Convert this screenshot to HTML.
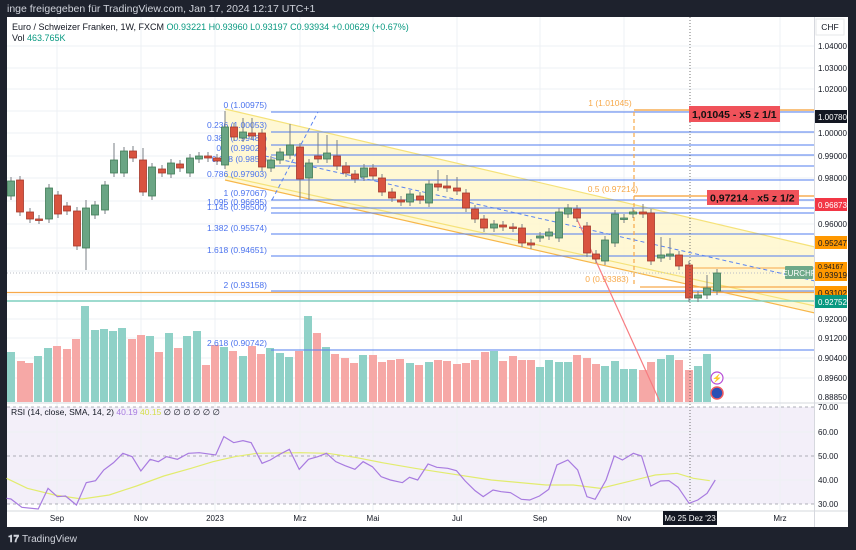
<!DOCTYPE html>
<html><head><meta charset="utf-8"><style>
body{margin:0;width:856px;height:550px;background:#1e222d;overflow:hidden;font-family:"Liberation Sans",sans-serif}
svg{position:absolute;left:0;top:0}
text{font-family:"Liberation Sans",sans-serif}
</style></head><body>
<svg width="856" height="550" viewBox="0 0 856 550" xmlns="http://www.w3.org/2000/svg">
<rect x="0" y="0" width="856" height="550" fill="#1e222d"/>
<text x="7" y="12" font-size="10.5" fill="#d1d4dc">inge freigegeben für TradingView.com, Jan 17, 2024 12:17 UTC+1</text>
<rect x="7" y="17" width="841" height="510" fill="#ffffff"/>
<!-- RSI bg -->
<rect x="7" y="407" width="807" height="97" fill="#f3eff9"/>
<g id="grid" stroke="#eef0f4" stroke-width="1">
<line x1="57" y1="17" x2="57" y2="511"/><line x1="141" y1="17" x2="141" y2="511"/><line x1="215" y1="17" x2="215" y2="511"/><line x1="300" y1="17" x2="300" y2="511"/><line x1="373" y1="17" x2="373" y2="511"/><line x1="457" y1="17" x2="457" y2="511"/><line x1="540" y1="17" x2="540" y2="511"/><line x1="624" y1="17" x2="624" y2="511"/><line x1="780" y1="17" x2="780" y2="511"/>
<line x1="7" y1="46" x2="814" y2="46"/><line x1="7" y1="68" x2="814" y2="68"/><line x1="7" y1="89" x2="814" y2="89"/><line x1="7" y1="111" x2="814" y2="111"/><line x1="7" y1="133" x2="814" y2="133"/><line x1="7" y1="156" x2="814" y2="156"/><line x1="7" y1="178" x2="814" y2="178"/><line x1="7" y1="201" x2="814" y2="201"/><line x1="7" y1="224" x2="814" y2="224"/><line x1="7" y1="248" x2="814" y2="248"/><line x1="7" y1="271" x2="814" y2="271"/><line x1="7" y1="295" x2="814" y2="295"/><line x1="7" y1="319" x2="814" y2="319"/><line x1="7" y1="338" x2="814" y2="338"/><line x1="7" y1="358" x2="814" y2="358"/><line x1="7" y1="378" x2="814" y2="378"/><line x1="7" y1="432" x2="814" y2="432"/><line x1="7" y1="480" x2="814" y2="480"/>
</g>
<!-- channel -->
<polygon points="225,109 815,247 815,312 225,180" fill="#fff7cc" opacity="0.85"/>
<line x1="225" y1="109" x2="815" y2="247" stroke="#f5e27a" stroke-width="1.2"/>
<line x1="225" y1="176" x2="815" y2="306" stroke="#f5e27a" stroke-width="1.2"/>
<line x1="225" y1="180" x2="815" y2="313" stroke="#f7b74a" stroke-width="1.2"/>
<!-- volume -->
<g id="vol"></g>
<!-- fib blue -->
<g stroke="#5b84f0" stroke-width="1.2" opacity="0.85">
<line x1="271" y1="112" x2="815" y2="112"/><line x1="271" y1="132" x2="815" y2="132"/><line x1="271" y1="145" x2="815" y2="145"/><line x1="271" y1="155" x2="815" y2="155"/><line x1="271" y1="166" x2="815" y2="166"/><line x1="271" y1="180" x2="815" y2="180"/><line x1="271" y1="200" x2="815" y2="200"/><line x1="271" y1="208" x2="815" y2="208"/><line x1="271" y1="213" x2="815" y2="213"/><line x1="271" y1="234" x2="815" y2="234"/><line x1="271" y1="256" x2="815" y2="256"/><line x1="271" y1="291" x2="815" y2="291"/><line x1="271" y1="350" x2="815" y2="350"/>
</g>
<g font-size="8.5" fill="#4a72ee" text-anchor="end">
<text x="267" y="108">0 (1.00975)</text><text x="267" y="128">0.236 (1.00053)</text><text x="267" y="141">0.382 (0.99487)</text><text x="267" y="151">0.5 (0.99024)</text><text x="267" y="162">0.618 (0.9856)</text><text x="267" y="177">0.786 (0.97903)</text><text x="267" y="196">1 (0.97067)</text><text x="267" y="205">1.095 (0.96695)</text><text x="267" y="210">1.145 (0.96500)</text><text x="267" y="231">1.382 (0.95574)</text><text x="267" y="253">1.618 (0.94651)</text><text x="267" y="288">2 (0.93158)</text><text x="267" y="346">2.618 (0.90742)</text>
</g>
<!-- horizontal lines -->
<line x1="7" y1="292.5" x2="815" y2="292.5" stroke="#f7a94a" stroke-width="1.2"/>
<line x1="7" y1="301" x2="815" y2="301" stroke="#7fcfbf" stroke-width="1.5"/>
<line x1="7" y1="273" x2="815" y2="273" stroke="#b8bcc6" stroke-width="1" stroke-dasharray="1,2"/>
<line x1="690" y1="268" x2="815" y2="268" stroke="#f7a94a" stroke-width="1"/>
<!-- orange fib -->
<g stroke="#f7a94a" stroke-width="1.2">
<line x1="634" y1="110" x2="815" y2="110" stroke-width="2" opacity="0.7"/><line x1="634" y1="196" x2="815" y2="196" stroke-width="2" opacity="0.7"/><line x1="640" y1="287" x2="815" y2="287"/>
<line x1="634" y1="112" x2="634" y2="286" stroke-dasharray="4,3"/>
</g>
<g font-size="8.5" fill="#f7a94a" text-anchor="middle"><text x="610" y="106">1 (1.01045)</text><text x="613" y="192">0.5 (0.97214)</text><text x="607" y="282">0 (0.93383)</text></g>
<!-- dashed blue -->
<line x1="265" y1="156" x2="815" y2="281" stroke="#5b84f0" stroke-width="1" stroke-dasharray="4,3"/>
<line x1="272" y1="200" x2="318" y2="112" stroke="#5b84f0" stroke-width="1" stroke-dasharray="4,3"/>
<line x1="576" y1="217" x2="660" y2="402" stroke="#f77c80" stroke-width="1.2"/>
<g id="cnd"></g>
<!-- vertical cursor -->
<line x1="690" y1="17" x2="690" y2="511" stroke="#555" stroke-width="0.8" stroke-dasharray="1,2"/>
<!-- annotations -->
<rect x="689" y="106" width="91" height="16" fill="#f0525a"/><text x="692" y="118" font-size="10.5" font-weight="bold" fill="#111">1,01045 - x5 z 1/1</text>
<rect x="707" y="190" width="92" height="15" fill="#f0525a"/><text x="710" y="201.5" font-size="10.5" font-weight="bold" fill="#111">0,97214 - x5 z 1/2</text>
<rect x="785" y="266" width="28" height="13" fill="#6ea989" rx="1"/><text x="799" y="276" font-size="8" fill="#fff" text-anchor="middle">EURCHF</text>
<circle cx="717" cy="378" r="6" fill="#fff" stroke="#b64bd6" stroke-width="1.2"/><text x="717" y="381" font-size="8" fill="#b64bd6" text-anchor="middle">⚡</text>
<circle cx="717" cy="393" r="6" fill="#2b4fb5" stroke="#f05a5f" stroke-width="1.5"/>
<!-- header -->
<text x="12" y="30" font-size="9" fill="#131722">Euro / Schweizer Franken, 1W, FXCM <tspan fill="#089981">O0.93221 H0.93960 L0.93197 C0.93934 +0.00629 (+0.67%)</tspan></text>
<text x="12" y="41" font-size="9" fill="#131722">Vol <tspan fill="#089981">463.765K</tspan></text>
<!-- RSI -->
<line x1="7" y1="403" x2="848" y2="403" stroke="#d6d8de" stroke-width="1"/>
<g stroke="#9598a1" stroke-width="0.8" stroke-dasharray="3,3"><line x1="7" y1="407" x2="814" y2="407"/><line x1="7" y1="456" x2="814" y2="456"/><line x1="7" y1="504" x2="814" y2="504"/></g>
<g transform="translate(0,400) scale(0.546,0.33333)" fill="none">
<polyline vector-effect="non-scaling-stroke" stroke="#e2ec6e" stroke-width="1.2" points="12,235 50,265 100,285 150,297 200,285 250,258 300,228 350,205 390,185 430,170 470,160 550,158 600,160 650,172 700,188 760,205 800,215 900,240 1000,255 1050,255 1100,265 1150,245 1200,225 1240,220 1270,235 1300,242"/>
<polyline vector-effect="non-scaling-stroke" stroke="#a87be0" stroke-width="1.2" points="12,295 20,297 40,322 70,327 88,265 105,290 120,288 140,315 158,248 175,242 190,210 208,188 225,160 242,170 258,213 275,178 290,185 305,170 325,178 345,160 365,158 395,165 410,110 428,128 445,122 460,128 480,190 495,180 510,165 530,148 548,208 565,178 582,170 598,160 615,185 632,197 650,208 665,185 682,200 698,230 715,240 737,248 750,232 765,240 784,192 800,202 820,205 836,212 852,243 870,272 885,290 903,270 918,275 935,278 955,298 970,300 988,288 1005,268 1020,195 1040,180 1058,210 1075,290 1090,298 1110,240 1125,168 1140,180 1160,160 1175,168 1192,258 1210,243 1225,242 1242,262 1262,310 1278,300 1295,280 1310,240"/>
</g>
<text x="11" y="415" font-size="8.5" fill="#131722">RSI (14, close, SMA, 14, 2) <tspan fill="#a87be0">40.19</tspan> <tspan fill="#d5de4a">40.15</tspan> ∅ ∅ ∅ ∅ ∅ ∅</text>
<!-- axes -->
<line x1="814.5" y1="17" x2="814.5" y2="527" stroke="#d6d8de"/>
<line x1="7" y1="511" x2="848" y2="511" stroke="#d6d8de"/>
<rect x="816" y="19" width="28" height="16" fill="#fff" stroke="#e6e7ea"/><text x="830" y="30" font-size="8.5" fill="#131722" text-anchor="middle">CHF</text>
<g font-size="8" fill="#131722">
<text x="818" y="49">1.04000</text><text x="818" y="71">1.03000</text><text x="818" y="92">1.02000</text><text x="818" y="136">1.00000</text><text x="818" y="159">0.99000</text><text x="818" y="181">0.98000</text><text x="818" y="227">0.96000</text><text x="818" y="322">0.92000</text><text x="818" y="341">0.91200</text><text x="818" y="361">0.90400</text><text x="818" y="381">0.89600</text><text x="818" y="400">0.88850</text>
<text x="818" y="410">70.00</text><text x="818" y="435">60.00</text><text x="818" y="459">50.00</text><text x="818" y="483">40.00</text><text x="818" y="507">30.00</text>
</g>
<rect x="815" y="110" width="32" height="13" fill="#131722"/><text x="818" y="120" font-size="8" fill="#fff">1.00780</text>
<rect x="815" y="198" width="32" height="13" fill="#f23645"/><text x="818" y="208" font-size="8" fill="#fff">0.96873</text>
<rect x="815" y="236" width="32" height="13" fill="#ff9800"/><text x="818" y="246" font-size="8" fill="#131722">0.95247</text>
<rect x="815" y="262" width="32" height="19" fill="#ff9800"/><text x="818" y="269" font-size="7" fill="#131722">0.94167</text><text x="818" y="278" font-size="8" fill="#131722">0.93919</text>
<rect x="815" y="286" width="32" height="13" fill="#ff9800"/><text x="818" y="296" font-size="8" fill="#131722">0.93102</text>
<rect x="815" y="295" width="32" height="13" fill="#089981"/><text x="818" y="305" font-size="8" fill="#fff">0.92752</text>
<g font-size="8" fill="#131722" text-anchor="middle">
<text x="57" y="521">Sep</text><text x="141" y="521">Nov</text><text x="215" y="521">2023</text><text x="300" y="521">Mrz</text><text x="373" y="521">Mai</text><text x="457" y="521">Jul</text><text x="540" y="521">Sep</text><text x="624" y="521">Nov</text><text x="780" y="521">Mrz</text>
</g>
<rect x="663" y="511" width="54" height="14" fill="#131722"/><text x="690" y="521" font-size="8" fill="#fff" text-anchor="middle">Mo 25 Dez '23</text>
<text x="8" y="542" font-size="10" font-weight="bold" fill="#d1d4dc">𝟏𝟕</text><text x="22" y="542" font-size="10" fill="#d1d4dc">TradingView</text>
</svg>
<script>
var ns="http://www.w3.org/2000/svg";
function el(p,t,a){var e=document.createElementNS(ns,t);for(var k in a)e.setAttribute(k,a[k]);p.appendChild(e);return e;}
var V=[[11,352,1],[21,361,0],[29,363,0],[38,356,1],[48,348,1],[57,346,0],[67,349,0],[76,339,0],[85,306,1],[95,330,1],[104,329,1],[113,331,1],[122,328,1],[132,339,0],[141,335,0],[150,336,1],[159,352,0],[169,333,1],[178,348,0],[187,336,1],[197,331,1],[206,365,0],[215,345,0],[224,347,1],[233,351,0],[243,356,1],[252,346,0],[261,354,0],[270,348,1],[280,353,1],[289,357,1],[299,351,0],[308,316,1],[317,333,0],[326,347,1],[335,354,0],[345,358,0],[354,363,0],[363,355,1],[373,355,0],[382,362,0],[391,360,0],[400,359,0],[410,363,1],[419,365,0],[429,362,1],[438,360,0],[447,361,0],[457,364,0],[466,363,0],[475,360,0],[485,352,0],[494,351,1],[503,361,0],[513,356,0],[522,360,0],[531,360,0],[540,367,1],[549,360,1],[559,362,1],[568,362,1],[577,355,0],[587,358,0],[596,364,0],[605,366,1],[615,361,1],[624,369,1],[633,369,1],[643,370,0],[651,362,0],[661,359,1],[670,355,1],[679,360,0],[689,370,0],[698,366,1],[707,354,1]];
var g=document.getElementById("vol");
V.forEach(function(v){el(g,"rect",{x:v[0]-4,y:v[1],width:8,height:402-v[1],fill:v[2]?"#8fd1c7":"#f6a8a6"});});
var C=[[11,196,181],[20,180,212],[30,212,219],[39,219,220],[49,219,188],[58,195,214],[67,206,211],[77,211,246],[86,248,208,200,270],[95,215,205],[105,210,185],[114,173,160,143],[124,173,151],[133,151,158,146],[143,160,192,148],[152,196,167],[162,169,173],[171,174,163],[180,164,168],[190,173,158],[199,159,156],[208,156,158],[217,158,161],[225,165,127,111],[234,127,137],[243,138,132,118],[252,133,136,118],[262,133,167],[271,168,160],[280,160,152],[290,155,145,124],[300,147,179,0,200],[309,178,163,0,200],[318,156,159,133],[327,159,153,135],[337,156,166,140],[346,166,173],[355,174,179],[364,177,168],[373,168,176],[382,178,192],[392,192,198],[401,200,202],[410,202,194],[420,196,200],[429,203,184],[438,184,187,170],[447,186,188,175],[457,188,191,177],[466,193,208],[475,209,219],[484,219,228],[494,228,224],[503,225,227],[513,227,228],[522,228,243],[531,243,245],[540,238,236],[549,236,232],[559,238,212],[568,214,208],[577,209,218],[587,226,253],[596,254,259],[605,261,240],[615,243,214],[624,219,218],[633,214,212],[643,212,214,204],[651,213,261],[661,258,255,237],[670,256,254,238],[679,255,266],[689,265,298,0,302],[698,298,295],[707,295,288,275],[717,291,273]];
var c=document.getElementById("cnd");
C.forEach(function(d){var x=d[0],o=d[1],cl=d[2],up=cl<o,t=Math.min(o,cl),b=Math.max(o,cl);
var h=d[3]||t-4,l=d[4]||b+4;
el(c,"line",{x1:x,y1:h,x2:x,y2:l,stroke:"#7a7f86","stroke-width":1});
el(c,"rect",{x:x-3.5,y:t,width:7,height:Math.max(b-t,1.5),fill:up?"#6aa584":"#d9533f",stroke:up?"#3f7a55":"#a5392b","stroke-width":0.8});});
</script>
</body></html>
